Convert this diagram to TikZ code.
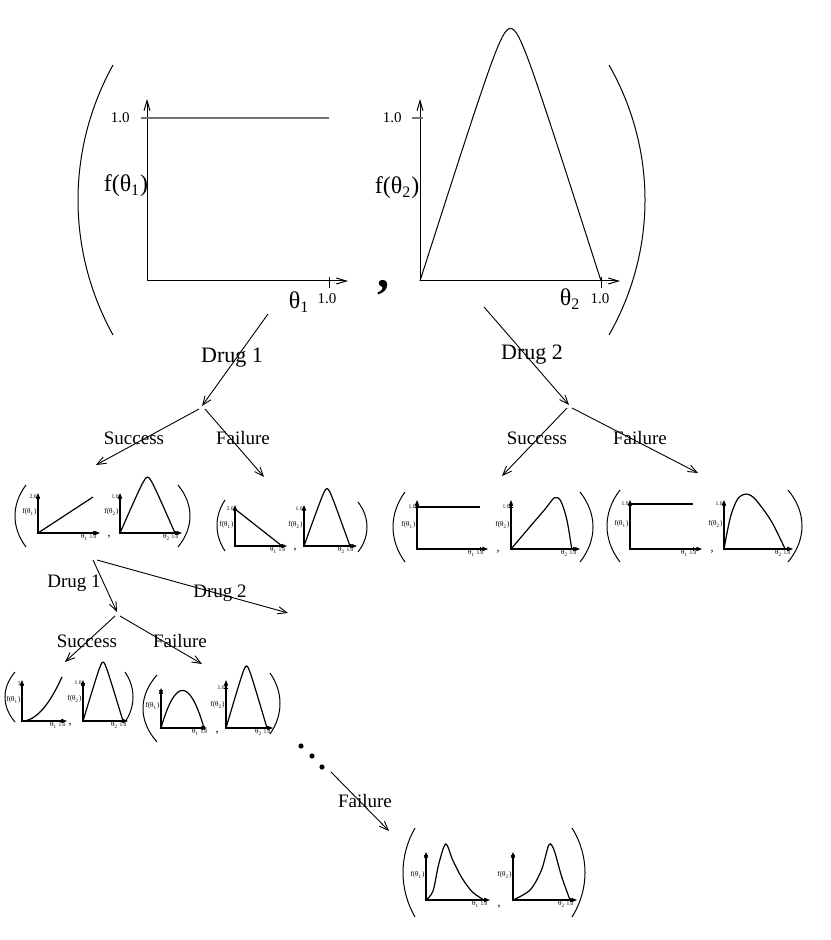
\documentclass[tikz,border=0pt]{standalone}
\usepackage{fontspec}
\setmainfont{Liberation Serif}
\usetikzlibrary{arrows.meta}

% bracket arc: end x, top y, bottom y, middle x
\newcommand{\parenarc}[4]{%
  \draw[paren] (#1,#2) .. controls ({#4+(#4-#1)/3},{#2+(#3-#2)/3.2})
    and ({#4+(#4-#1)/3},{#3-(#3-#2)/3.2}) .. (#1,#3);}
% small plot: name, origin x, origin y, tick x, x end, y top, tick y, index, y label
\newcommand{\smallplot}[9]{%
  \draw[axisline] (#2,#6) -- (#2,#3) -- (#5,#3);
  \draw[line width=0.5pt] (#4,#3-2) -- (#4,#3+2);
  \draw[line width=0.5pt] (#2-2,#7) -- (#2+2,#7);
  \node[smalltick,anchor=east] (#1-yt) at (#2-1,#7) {#9};
  \node[smalllab,anchor=east] (#1-f) at (#2-1,{(#3+#7)/2-3}) {f(θ\textsubscript{#8})};
  \node[smalllab,anchor=east] (#1-x) at (#4-4.5,#3+4) {θ\textsubscript{#8}};
  \node[smalltick] (#1-one) at (#4,#3+4) {1.0};}
\newcommand{\humppath}{plot[domain=0:1,samples=80] (\x,{1.55*(1-(sqrt((2*\x-1)^2+0.0144)-0.12)/0.8872)})}

\begin{document}
\begin{tikzpicture}[x=0.5pt,y=-0.5pt,
  >={Straight Barb[length=4.5pt,width=3.6pt]},
  branch/.style={->,line width=0.45pt},
  paren/.style={line width=0.5pt},
  smallparen/.style={line width=0.7pt},
  bigaxis/.style={{Straight Barb[length=5pt,width=3pt]}-{Straight Barb[length=5pt,width=3pt]},line width=0.5pt},
  axisline/.style={{Straight Barb[length=2pt,width=1.6pt]}-{Straight Barb[length=2pt,width=1.6pt]},line width=0.6pt},
  curve/.style={line width=0.5pt},
  smallcurve/.style={line width=0.6pt},
  biglab/.style={font=\fontsize{12}{12}\selectfont,inner sep=0pt},
  bigtick/.style={font=\fontsize{7.5}{7.5}\selectfont,inner sep=0pt},
  druglab/.style={font=\fontsize{11}{11}\selectfont,inner sep=0pt},
  outlab/.style={font=\fontsize{9.5}{9.5}\selectfont,inner sep=0pt},
  smalllab/.style={font=\fontsize{3.6}{3.6}\selectfont,inner sep=0pt},
  smalltick/.style={font=\fontsize{2.8}{2.8}\selectfont,inner sep=0pt},
  smallcomma/.style={font=\fontsize{6}{6}\selectfont,inner sep=0pt}]
\useasboundingbox (0,0) rectangle (830,940);

% prior pair
\parenarc{113}{65}{335}{78}
\parenarc{609}{65}{335}{645}
\draw[bigaxis] (147,99) -- (147,281) -- (348,281);
\draw[line width=0.5pt] (329,277) -- (329,288);
\draw[black!55,line width=1pt] (141,118) -- (329,118);
\node[bigtick,anchor=east] (top1-yt) at (130,118) {1.0};
\node[biglab] (top1-f) at (126,186) {f(θ\textsubscript{1})};
\node[biglab] (top1-x) at (299,302) {θ\textsubscript{1}};
\node[bigtick] (top1-one) at (327,299) {1.0};
\node[font=\fontsize{24}{24}\selectfont\bfseries,inner sep=0pt] (top-comma) at (383,288) {,};
\draw[bigaxis] (420,99) -- (420,281) -- (620,281);
\draw[line width=0.5pt] (601,277) -- (601,288);
\draw[black!55,line width=1pt] (412,118) -- (423,118);
\node[bigtick,anchor=east] (top2-yt) at (402,118) {1.0};
\node[biglab] (top2-f) at (397,188) {f(θ\textsubscript{2})};
\node[biglab] (top2-x) at (570,299) {θ\textsubscript{2}};
\node[bigtick] (top2-one) at (600,299) {1.0};
\begin{scope}[shift={(420,281)},xscale=181,yscale=-163]
  \draw[curve] \humppath;
\end{scope}

% first branches
\coordinate (root1) at (268,314);
\coordinate (drug1end) at (202,406);
\coordinate (fork1s) at (199,409);
\coordinate (succ1end) at (96,465);
\coordinate (fork1f) at (205,409);
\coordinate (fail1end) at (264,477);
\coordinate (root2) at (484,307);
\coordinate (drug2end) at (569,405);
\coordinate (fork2s) at (567,408);
\coordinate (succ2end) at (502,476);
\coordinate (fork2f) at (572,408);
\coordinate (fail2end) at (698,473);
\draw[branch] (root1) -- (drug1end);
\draw[branch] (fork1s) -- (succ1end);
\draw[branch] (fork1f) -- (fail1end);
\draw[branch] (root2) -- (drug2end);
\draw[branch] (fork2s) -- (succ2end);
\draw[branch] (fork2f) -- (fail2end);
\node[druglab] (drug1) at (232,358) {Drug 1};
\node[druglab] (drug2) at (532,355) {Drug 2};
\node[outlab] (succ1) at (134,438) {Success};
\node[outlab] (fail1) at (243,438) {Failure};
\node[outlab] (succ2) at (537,438) {Success};
\node[outlab] (fail2) at (640,438) {Failure};

% second row
\begin{scope}[every path/.append style={smallparen}]
\parenarc{26}{485}{547}{15}
\parenarc{178}{485}{547}{190}
\parenarc{225}{500}{551}{217}
\parenarc{358}{502}{552}{367}
\parenarc{405}{492}{562}{393}
\parenarc{580}{492}{562}{593}
\parenarc{620}{490}{562}{607}
\parenarc{788}{490}{562}{802}
\end{scope}
\smallplot{a1}{38}{533}{93}{100}{493}{497}{1}{2.0}
\draw[smallcurve] (38,533) -- (93,497);
\node[smallcomma] (a-comma) at (109,537) {,};
\smallplot{a2}{120}{533}{175}{182}{493}{497}{2}{1.0}
\begin{scope}[shift={(120,533)},xscale=55,yscale=-36]
  \draw[smallcurve] \humppath;
\end{scope}
\smallplot{b1}{235}{546}{282}{287}{505}{509}{1}{2.0}
\draw[smallcurve] (235,509) -- (282,546);
\node[smallcomma] (b-comma) at (295,550) {,};
\smallplot{b2}{304}{546}{350}{357}{505}{509}{2}{1.0}
\begin{scope}[shift={(304,546)},xscale=46,yscale=-37]
  \draw[smallcurve] \humppath;
\end{scope}
\smallplot{c1}{417}{549}{480}{488}{500}{507}{1}{1.0}
\draw[smallcurve] (417,507) -- (480,507);
\node[smallcomma] (c-comma) at (498,552) {,};
\smallplot{c2}{511}{549}{573}{580}{500}{507}{2}{1.0}
\begin{scope}[shift={(511,549)},xscale=62,yscale=-42]
  \draw[smallcurve] plot[smooth] coordinates {(0,0) (0.3,0.52) (0.55,0.95) (0.7,1.22) (0.8,1.15) (0.9,0.7) (0.98,0)};
\end{scope}
\smallplot{d1}{630}{549}{693}{702}{500}{504}{1}{1.0}
\draw[smallcurve] (630,504) -- (693,504);
\node[smallcomma] (d-comma) at (712,552) {,};
\smallplot{d2}{724}{549}{787}{793}{500}{504}{2}{1.0}
\begin{scope}[shift={(724,549)},xscale=63,yscale=-45]
  \draw[smallcurve] plot[smooth] coordinates {(0,0) (0.1,0.7) (0.22,1.12) (0.36,1.22) (0.5,1.1) (0.75,0.62) (0.97,0)};
\end{scope}

% after success on drug 1
\coordinate (root3) at (93,560);
\coordinate (drug3end) at (117,612);
\coordinate (root4) at (97,560);
\coordinate (drug4end) at (288,613);
\coordinate (fork3s) at (115,616);
\coordinate (succ3end) at (65,662);
\coordinate (fork3f) at (120,616);
\coordinate (fail3end) at (202,664);
\draw[branch] (root3) -- (drug3end);
\draw[branch] (root4) -- (drug4end);
\draw[branch] (fork3s) -- (succ3end);
\draw[branch] (fork3f) -- (fail3end);
\node[outlab] (drug3) at (74,583) {Drug 1};
\node[outlab] (drug4) at (220,593) {Drug 2};
\node[outlab] (succ3) at (87,641) {Success};
\node[outlab] (fail3) at (180,641) {Failure};

% third row
\begin{scope}[every path/.append style={smallparen}]
\parenarc{15}{672}{722}{5}
\parenarc{125}{672}{722}{133}
\parenarc{157}{675}{742}{143}
\parenarc{270}{673}{734}{280}
\end{scope}
\smallplot{e1}{22}{721}{62}{67}{680}{684}{1}{3}
\begin{scope}[shift={(22,721)},xscale=40,yscale=-14.7]
  \draw[smallcurve] plot[domain=0:1,samples=30] (\x,{3*\x*\x});
\end{scope}
\node[smallcomma] (e-comma) at (70,725) {,};
\smallplot{e2}{83}{721}{123}{128}{680}{683}{2}{1.0}
\begin{scope}[shift={(83,721)},xscale=40,yscale=-38]
  \draw[smallcurve] \humppath;
\end{scope}
\smallplot{f1}{161}{728}{204}{207}{688}{690}{1}{}
\begin{scope}[shift={(161,728)},xscale=43,yscale=-25]
  \draw[smallcurve] plot[domain=0:1,samples=30] (\x,{6*\x*(1-\x)});
\end{scope}
\node[smallcomma] (f-comma) at (217,733) {,};
\smallplot{f2}{226}{728}{267}{273}{680}{688}{2}{1.0}
\begin{scope}[shift={(226,728)},xscale=41,yscale=-40]
  \draw[smallcurve] \humppath;
\end{scope}

% many trials later
\fill (301,746) circle (1.3pt);
\fill (312,756) circle (1.3pt);
\fill (322,767) circle (1.3pt);
\coordinate (root5) at (331,772);
\coordinate (fail5end) at (389,831);
\draw[branch] (root5) -- (fail5end);
\node[outlab] (fail5) at (365,801) {Failure};
\begin{scope}[every path/.append style={smallparen}]
\parenarc{415}{828}{917}{403}
\parenarc{572}{828}{917}{585}
\end{scope}
\smallplot{g1}{426}{900}{484}{490}{852}{855}{1}{}
\begin{scope}[shift={(426,900)},xscale=58,yscale=-40]
  \draw[smallcurve] plot[smooth] coordinates {(0,0) (0.12,0.22) (0.22,0.9) (0.34,1.4) (0.46,1.0) (0.62,0.55) (0.8,0.2) (1,0)};
\end{scope}
\node[smallcomma] (g-comma) at (499,907) {,};
\smallplot{g2}{513}{900}{570}{577}{852}{855}{2}{}
\begin{scope}[shift={(513,900)},xscale=57,yscale=-40]
  \draw[smallcurve] plot[smooth] coordinates {(0,0) (0.3,0.25) (0.5,0.75) (0.63,1.38) (0.72,1.25) (0.85,0.6) (1,0)};
\end{scope}
\end{tikzpicture}
\end{document}
